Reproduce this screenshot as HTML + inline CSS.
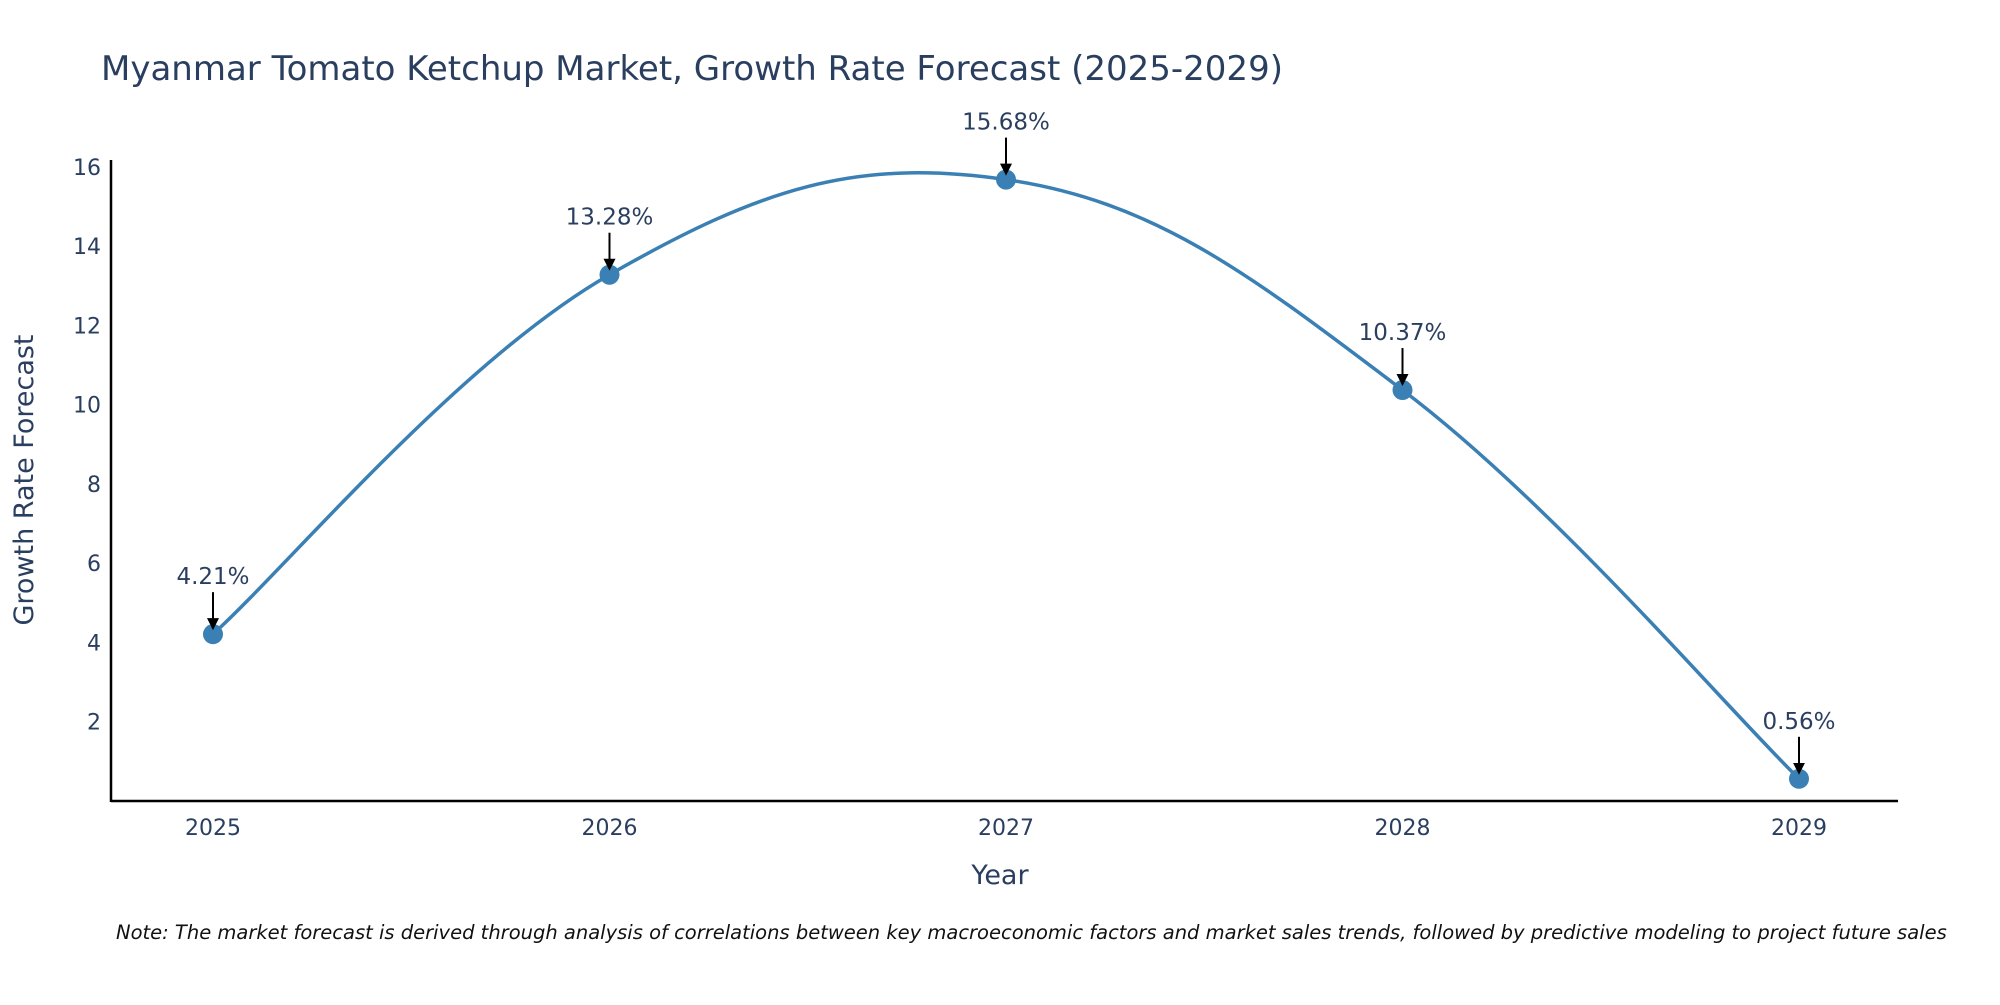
<!DOCTYPE html>
<html><head><meta charset="utf-8"><style>
body{margin:0;background:#fff;}
svg text{font-family:"DejaVu Sans",sans-serif;fill:#2a3f5f;}
</style></head><body>
<svg width="2000" height="1000" xmlns="http://www.w3.org/2000/svg">
<text x="101" y="80" font-size="34">Myanmar Tomato Ketchup Market, Growth Rate Forecast (2025-2029)</text>
<g id="plot"></g>
<text x="1000" y="884" font-size="27" text-anchor="middle">Year</text>
<text transform="translate(33,480) rotate(-90)" font-size="27" text-anchor="middle">Growth Rate Forecast</text>
<text x="116" y="939" font-size="19.5" font-style="italic" style="fill:#111">Note: The market forecast is derived through analysis of correlations between key macroeconomic factors and market sales trends, followed by predictive modeling to project future sales</text>
</svg>
<script>
const years=[2025,2026,2027,2028,2029];
const values=[4.21,13.28,15.68,10.37,0.56];
const labels=["4.21%","13.28%","15.68%","10.37%","0.56%"];
const yTicks=[2,4,6,8,10,12,14,16];
const NS="http://www.w3.org/2000/svg";
const g=document.getElementById('plot');
const X=v=>213+(v-2025)*396.5;
const Y=v=>801-v*39.63;
function mk(t,a,p){const e=document.createElementNS(NS,t);for(const k in a)e.setAttribute(k,a[k]);(p||g).appendChild(e);return e;}
let e;
e=mk('line',{x1:111,y1:801,x2:1898,y2:801,stroke:'#000','stroke-width':2.5});


e=mk('line',{x1:111,y1:160,x2:111,y2:802,stroke:'#000','stroke-width':2.5});


yTicks.forEach(t=>{e=mk('text',{x:101,y:Y(t)+8,'font-size':22,'text-anchor':'end'});e.textContent=t;

});
years.forEach(t=>{e=mk('text',{x:X(t),y:835,'font-size':22,'text-anchor':'middle'});e.textContent=t;

});
const pts=years.map((y,i)=>[X(y),Y(values[i])]);
let d=`M${pts[0][0]},${pts[0][1]}`;const s=0.19;
for(let i=0;i<pts.length-1;i++){const p0=pts[i-1]||pts[i],p1=pts[i],p2=pts[i+1],p3=pts[i+2]||p2;
d+=` C${p1[0]+(p2[0]-p0[0])*s},${p1[1]+(p2[1]-p0[1])*s} ${p2[0]-(p3[0]-p1[0])*s},${p2[1]-(p3[1]-p1[1])*s} ${p2[0]},${p2[1]}`;}
e=mk('path',{d:d,fill:'none',stroke:'#3b80b4','stroke-width':3.5});


mk('defs',{}).innerHTML='<marker id="ah" markerWidth="6" markerHeight="6" refX="5" refY="3" orient="auto"><path d="M0,0 L6,3 L0,6 z" fill="#000"/></marker>';
pts.forEach((p,i)=>{e=mk('circle',{cx:p[0],cy:p[1],r:10,fill:'#3b80b4'});


e=mk('line',{x1:p[0],y1:p[1]-42,x2:p[0],y2:p[1]-6,stroke:'#000','stroke-width':2,'marker-end':'url(#ah)'});


e=mk('text',{x:p[0],y:p[1]-50,'font-size':23,'text-anchor':'middle'});e.textContent=labels[i];

});
</script>
</body></html>
